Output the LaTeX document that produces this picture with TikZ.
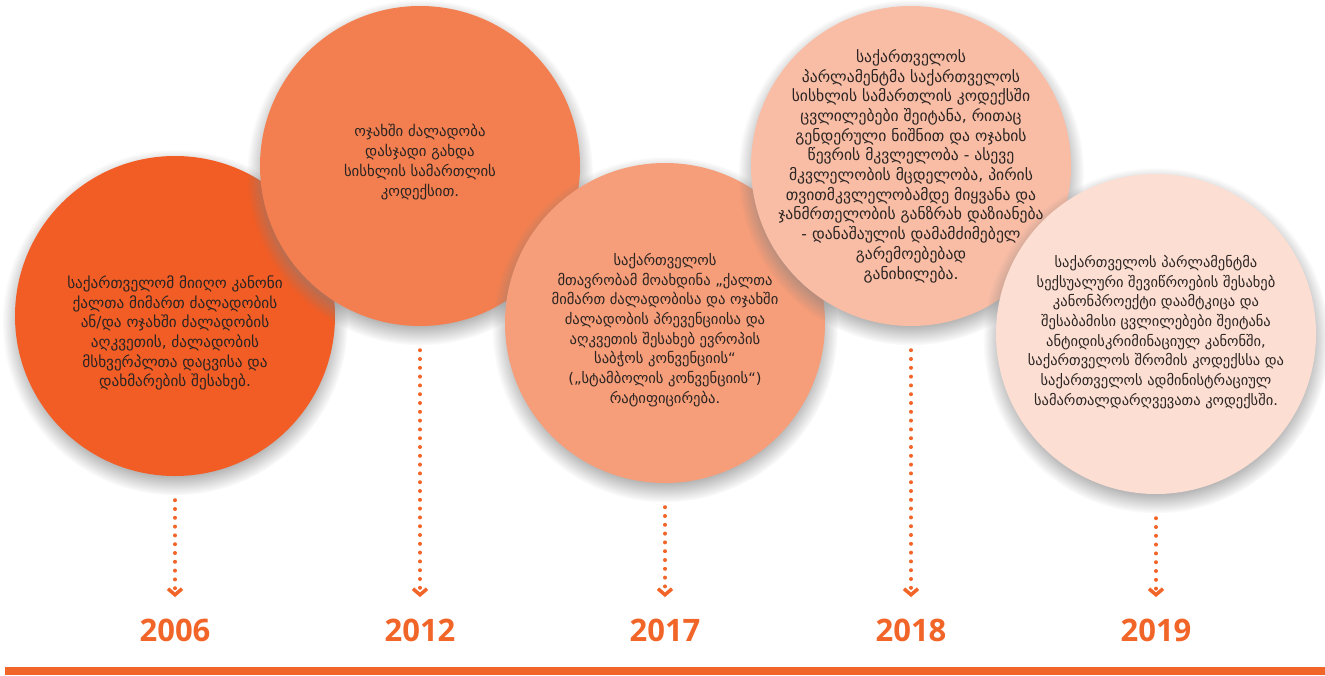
\documentclass[tikz,border=0pt]{standalone}
\usepackage{fontspec}
\setmainfont{DejaVu Sans}
\newfontfamily\yearfont{Open Sans}
\usepackage{tikz}
\usetikzlibrary{shadows}
\usetikzlibrary{positioning}
\usetikzlibrary{arrows.meta}
\usetikzlibrary{calc}

\definecolor{ora1}{HTML}{F15D25}
\definecolor{ora2}{HTML}{F37F50}
\definecolor{ora3}{HTML}{F69D79}
\definecolor{ora4}{HTML}{F9BDA6}
\definecolor{ora5}{HTML}{FCDED3}
\definecolor{yrcol}{HTML}{F26529}
\definecolor{txtcol}{HTML}{2A2422}

\begin{document}
\begin{tikzpicture}[x=1pt, y=-1pt,
  disc/.style={circle, minimum size=320pt, inner sep=0pt,
    circular drop shadow={shadow scale=1.08, shadow xshift=0pt, shadow yshift=-6pt, opacity=0.75}},
  txt/.style={align=center, text=txtcol, font=\fontsize{#1}{19.7}\selectfont},
  txt/.default=13,
  yr/.style={text=yrcol, font=\yearfont\bfseries\fontsize{31}{31}\selectfont},
  dotline/.style={draw=yrcol, line width=4pt, line cap=round, dash pattern=on 0pt off 8.8pt,
    shorten <=24pt, shorten >=18pt,
    -{Straight Barb[length=6pt, width=14pt, line width=3.5pt]}}]
 \useasboundingbox (0,0) rectangle (1325,675);

 %circles
 \node[disc, fill=ora1] (c1) at (175,316) {};
 \node[disc, fill=ora2] (c2) at (420,166) {};
 \node[disc, fill=ora3] (c3) at (665,323) {};
 \node[disc, fill=ora4] (c4) at (911,166) {};
 \node[disc, fill=ora5] (c5) at (1156,334) {};

 %texts
 \node[txt=15.2] (t1) at (175,333) {საქართველომ მიიღო კანონი\\ქალთა მიმართ ძალადობის\\ან/და ოჯახში ძალადობის\\აღკვეთის, ძალადობის\\მსხვერპლთა დაცვისა და\\დახმარების შესახებ.};
 \node[txt=14.8] (t2) at (420,162) {ოჯახში ძალადობა\\დასჯადი გახდა\\სისხლის სამართლის\\კოდექსით.};
 \node[txt=14.6] (t3) at (665,330) {საქართველოს\\მთავრობამ მოახდინა „ქალთა\\მიმართ ძალადობისა და ოჯახში\\ძალადობის პრევენციისა და\\აღკვეთის შესახებ ევროპის\\საბჭოს კონვენციის“\\(„სტამბოლის კონვენციის“)\\რატიფიცირება.};
 \node[txt=15.6] (t4) at (911,166) {საქართველოს\\პარლამენტმა საქართველოს\\სისხლის სამართლის კოდექსში\\ცვლილებები შეიტანა, რითაც\\გენდერული ნიშნით და ოჯახის\\წევრის მკვლელობა - ასევე\\მკვლელობის მცდელობა, პირის\\თვითმკვლელობამდე მიყვანა და\\ჯანმრთელობის განზრახ დაზიანება\\- დანაშაულის დამამძიმებელ\\გარემოებებად\\განიხილება.};
 \node[txt=14.5] (t5) at (1156,332) {საქართველოს პარლამენტმა\\სექსუალური შევიწროების შესახებ\\კანონპროექტი დაამტკიცა და\\შესაბამისი ცვლილებები შეიტანა\\ანტიდისკრიმინაციულ კანონში,\\საქართველოს შრომის კოდექსსა და\\საქართველოს ადმინისტრაციულ\\სამართალდარღვევათა კოდექსში.};

 %years
 \node[yr] (y1) at (175,630) {2006};
 \node[yr] (y2) at (420,630) {2012};
 \node[yr] (y3) at (665,630) {2017};
 \node[yr] (y4) at (911,630) {2018};
 \node[yr] (y5) at (1156,630) {2019};

 %arrows
 \path[dotline] (c1.south) -- (y1.north);
 \path[dotline] (c2.south) -- (y2.north);
 \path[dotline] (c3.south) -- (y3.north);
 \path[dotline] (c4.south) -- (y4.north);
 \path[dotline] (c5.south) -- (y5.north);

 %timeline
 \fill[yrcol] (5,667) rectangle (1325,675);
\end{tikzpicture}
\end{document}
